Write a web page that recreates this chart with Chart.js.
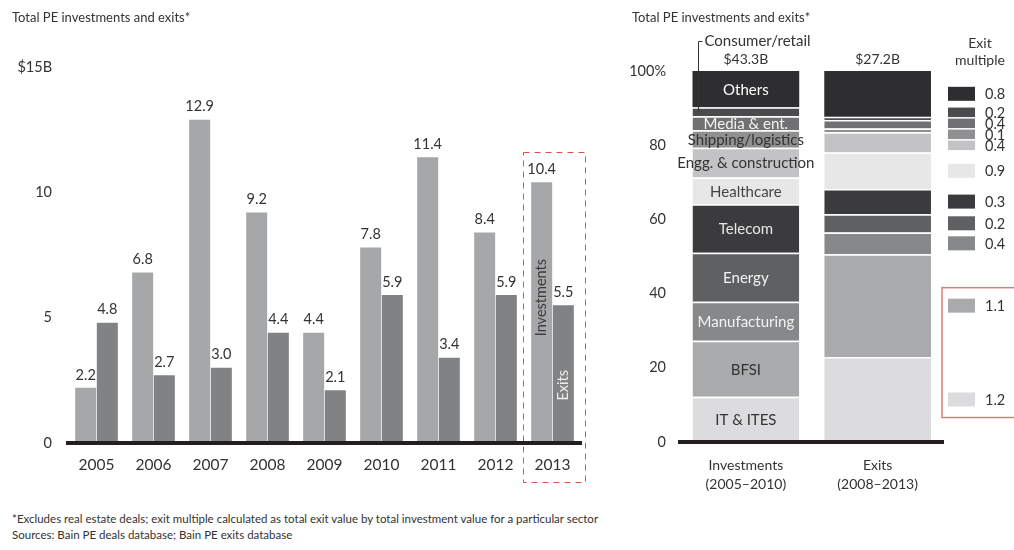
<!DOCTYPE html>
<html>
<head>
<meta charset="utf-8">
<script src="https://cdn.jsdelivr.net/npm/chart.js@4"></script>
<style>
  html, body { margin: 0; padding: 0; background: #fff; }
  body { width: 1014px; height: 550px; position: relative; overflow: hidden; font-family: Lato, "Open Sans", sans-serif; color: #333; }
  .panel { position: absolute; top: 0; }
  .title { position: absolute; top: 9px; font-size: 13px; color: #333; white-space: nowrap; }
  .note { position: absolute; left: 12px; font-size: 11.5px; color: #333; white-space: nowrap; }
</style>
</head>
<body>
<div class="panel" style="left:0;width:600px;height:500px;"><canvas id="annual" width="600" height="500"></canvas></div>
<div class="panel" style="left:620px;width:394px;height:500px;"><canvas id="sectors" width="394" height="500"></canvas></div>
<div class="title" style="left:12px;">Total PE investments and exits*</div>
<div class="title" style="left:632px;">Total PE investments and exits*</div>
<div class="note" style="top:512px;">*Excludes real estate deals; exit multiple calculated as total exit value by total investment value for a particular sector</div>
<div class="note" style="top:528px;">Sources: Bain PE deals database; Bain PE exits database</div>

<script>
// ---- Annual totals ($B) ----
const years = ['2005', '2006', '2007', '2008', '2009', '2010', '2011', '2012', '2013'];
const investments = [2.2, 6.8, 12.9, 9.2, 4.4, 7.8, 11.4, 8.4, 10.4];
const exits = [4.8, 2.7, 3.0, 4.4, 2.1, 5.9, 3.4, 5.9, 5.5];
const annualTicks = [0, 5, 10, 15];
const annualTickLabels = ['0', '5', '10', '$15B'];

// ---- Sector mix (% of total), bottom to top ----
const sectors = ['IT & ITES', 'BFSI', 'Manufacturing', 'Energy', 'Telecom', 'Healthcare',
  'Engg. & construction', 'Shipping/logistics', 'Media & ent.', 'Consumer/retail', 'Others'];
const investmentShare = [12.2, 15.1, 10.5, 13.2, 13.1, 7.2, 8.0, 4.7, 3.8, 2.4, 9.8];
const exitShare = [22.9, 27.7, 5.9, 4.9, 6.8, 9.8, 5.5, 1.0, 2.3, 0.9, 12.3];
const exitMultiple = ['1.2', '1.1', '0.4', '0.2', '0.3', '0.9', '0.4', '0.1', '0.4', '0.2', '0.8'];
const mixCategories = [['Investments', '(2005\u20132010)'], ['Exits', '(2008\u20132013)']];
const mixTotals = ['$43.3B', '$27.2B'];
const mixTicks = [0, 20, 40, 60, 80, 100];
const mixTickLabels = ['0', '20', '40', '60', '80', '100%'];

// styling
const FONT = 'Lato, "Open Sans", sans-serif';
const TEXT = '#333333';
const AXIS = '#231f20';
const sectorColors = ['#dcdcde', '#a9aaac', '#87888a', '#5f6062', '#3b3b3d', '#e7e7e8',
  '#c3c3c5', '#909092', '#717173', '#4b4b4d', '#2e2d2f'];
const sectorLabelColors = ['#333', '#333', '#f2f2f2', '#f2f2f2', '#e6e6e6', '#444',
  '#333', '#333', '#f2f2f2', '#333', '#ffffff'];

Chart.defaults.font.family = FONT;
Chart.defaults.color = TEXT;

// ---------- Left: investments vs exits by year ----------
const annualNotes = {
  id: 'annualNotes',
  afterDatasetsDraw(chart) {
    const ctx = chart.ctx;
    const y = chart.scales.y;
    ctx.save();
    ctx.font = '14.5px ' + FONT;
    ctx.fillStyle = TEXT;
    ctx.textAlign = 'center';
    ctx.textBaseline = 'middle';
    chart.data.datasets.forEach((ds, i) => {
      chart.getDatasetMeta(i).data.forEach((bar, j) => {
        ctx.fillText(ds.data[j].toFixed(1), bar.x, bar.y - 13);
      });
    });
    // series names written inside the latest year's bars
    const last = years.length - 1;
    const inv = chart.getDatasetMeta(0).data[last];
    const ex = chart.getDatasetMeta(1).data[last];
    ctx.font = '14.5px ' + FONT;
    ctx.save();
    ctx.translate(inv.x, y.getPixelForValue(5.8));
    ctx.rotate(-Math.PI / 2);
    ctx.fillStyle = '#3a3a3c';
    ctx.fillText('Investments', 0, 0);
    ctx.restore();
    ctx.save();
    ctx.translate(ex.x, y.getPixelForValue(2.3));
    ctx.rotate(-Math.PI / 2);
    ctx.fillStyle = '#ececec';
    ctx.fillText('Exits', 0, 0);
    ctx.restore();
    // dashed highlight around the latest year
    const xs = chart.scales.x;
    const cx = xs.getPixelForValue(last);
    ctx.setLineDash([6, 5]);
    ctx.strokeStyle = '#d9534f';
    ctx.lineWidth = 1;
    ctx.strokeRect(Math.round(cx - 30) + 0.5, 152.5, 62, 330);
    ctx.restore();
  }
};

new Chart(document.getElementById('annual'), {
  type: 'bar',
  data: {
    labels: years,
    datasets: [
      { label: 'Investments', data: investments, backgroundColor: '#a6a7a9' },
      { label: 'Exits', data: exits, backgroundColor: '#818284' }
    ]
  },
  options: {
    responsive: false,
    animation: false,
    devicePixelRatio: 1,
    layout: { padding: { top: 67, right: 19, bottom: 17, left: 0 } },
    datasets: { bar: { categoryPercentage: 0.76, barPercentage: 0.97 } },
    plugins: { legend: { display: false }, tooltip: { enabled: false } },
    scales: {
      x: {
        grid: { display: false, drawTicks: false },
        border: { display: true, color: AXIS, width: 4, z: 1 },
        ticks: { padding: 13, font: { size: 15.5 }, color: TEXT },
        afterFit(scale) { scale.height = 40; }
      },
      y: {
        min: 0, max: 15,
        grid: { display: false, drawTicks: false },
        border: { display: false },
        afterBuildTicks(scale) { scale.ticks = annualTicks.map(v => ({ value: v })); },
        ticks: {
          padding: 16, font: { size: 14.5 }, color: TEXT,
          callback: v => annualTickLabels[annualTicks.indexOf(v)]
        },
        afterFit(scale) { scale.width = 68; }
      }
    }
  },
  plugins: [annualNotes]
});

// ---------- Right: sector mix with exit multiples ----------
const mixNotes = {
  id: 'mixNotes',
  afterDatasetsDraw(chart) {
    const ctx = chart.ctx;
    const area = chart.chartArea;
    const n = sectors.length;
    ctx.save();
    ctx.textBaseline = 'middle';

    // sector names on the investment column
    ctx.font = '15px ' + FONT;
    ctx.textAlign = 'center';
    const consumer = sectors.indexOf('Consumer/retail');
    for (let i = 0; i < n; i++) {
      if (i === consumer) continue;
      const el = chart.getDatasetMeta(i).data[0];
      ctx.fillStyle = sectorLabelColors[i];
      ctx.fillText(sectors[i], el.x, (el.y + el.base) / 2 + 1);
    }
    // consumer/retail called out above the column with a leader line
    const cEl = chart.getDatasetMeta(consumer).data[0];
    const lx = Math.round(cEl.x - cEl.width / 2 + 5) + 0.5;
    ctx.strokeStyle = '#333';
    ctx.lineWidth = 1;
    ctx.beginPath();
    ctx.moveTo(lx + 4, 41.5);
    ctx.lineTo(lx, 41.5);
    ctx.lineTo(lx, (cEl.y + cEl.base) / 2);
    ctx.stroke();
    ctx.textAlign = 'left';
    ctx.fillStyle = TEXT;
    ctx.font = '15px ' + FONT;
    ctx.fillText(sectors[consumer], lx + 6, 41);

    // column totals
    ctx.textAlign = 'center';
    ctx.font = '14px ' + FONT;
    const top = chart.getDatasetMeta(n - 1).data;
    top.forEach((el, j) => ctx.fillText(mixTotals[j], el.x, 59));

    // exit multiple key, aligned with the exit column segments
    const pos = [];
    for (let i = n - 1; i >= 0; i--) {
      const el = chart.getDatasetMeta(i).data[1];
      pos.push({ i, y: (el.y + el.base) / 2 });
    }
    const minGap = 11;
    for (let it = 0; it < 200; it++) {
      for (let k = 0; k < pos.length - 1; k++) {
        const gap = pos[k + 1].y - pos[k].y;
        if (gap < minGap) {
          const s = (minGap - gap) / 2;
          pos[k].y -= s;
          pos[k + 1].y += s;
        }
      }
    }
    const sx = area.right + 4.5;
    ctx.font = '14.5px ' + FONT;
    ctx.textAlign = 'left';
    pos.forEach((p, k) => {
      const up = k > 0 ? p.y - pos[k - 1].y : 99;
      const dn = k < pos.length - 1 ? pos[k + 1].y - p.y : 99;
      const h = Math.min(14, Math.min(up, dn) - 1.5);
      ctx.fillStyle = sectorColors[p.i];
      ctx.fillRect(sx, p.y - h / 2, 27, h);
      ctx.fillStyle = TEXT;
      ctx.fillText(exitMultiple[p.i], sx + 37, p.y + 1);
    });
    ctx.textAlign = 'center';
    ctx.font = '14px ' + FONT;
    ctx.fillText('Exit', sx + 32, 43);
    ctx.fillText('multiple', sx + 32, 60);

    // outline around the two sectors that returned more than invested
    const yb = pos.find(p => p.i === 1).y;
    const yi = pos.find(p => p.i === 0).y;
    ctx.strokeStyle = '#e07b7b';
    ctx.lineWidth = 1.5;
    ctx.strokeRect(area.right - 1.5, yb - 18, 90, yi - yb + 36);
    ctx.restore();
  }
};

new Chart(document.getElementById('sectors'), {
  type: 'bar',
  data: {
    labels: mixCategories,
    datasets: sectors.map((s, i) => ({
      label: s,
      data: [investmentShare[i], exitShare[i]],
      backgroundColor: sectorColors[i],
      borderColor: '#ffffff',
      borderWidth: { top: i === sectors.length - 1 ? 0 : 1.5, right: 0, bottom: 0, left: 0 },
      borderSkipped: false
    }))
  },
  options: {
    responsive: false,
    animation: false,
    devicePixelRatio: 1,
    layout: { padding: { top: 71, right: 70.5, bottom: 8, left: 0 } },
    datasets: { bar: { categoryPercentage: 0.81, barPercentage: 1 } },
    plugins: { legend: { display: false }, tooltip: { enabled: false } },
    scales: {
      x: {
        stacked: true,
        grid: { display: false, drawTicks: false },
        border: { display: true, color: AXIS, width: 4, z: 1 },
        ticks: { padding: 14, font: { size: 14, lineHeight: 1.36 }, color: TEXT },
        afterFit(scale) { scale.height = 50; }
      },
      y: {
        stacked: true,
        min: 0, max: 100,
        grid: { display: false, drawTicks: false },
        border: { display: false },
        afterBuildTicks(scale) { scale.ticks = mixTicks.map(v => ({ value: v })); },
        ticks: {
          padding: 14, font: { size: 14.5 }, color: TEXT,
          callback: v => mixTickLabels[mixTicks.indexOf(v)]
        },
        afterFit(scale) { scale.width = 60; }
      }
    }
  },
  plugins: [mixNotes]
});
</script>
</body>
</html>
